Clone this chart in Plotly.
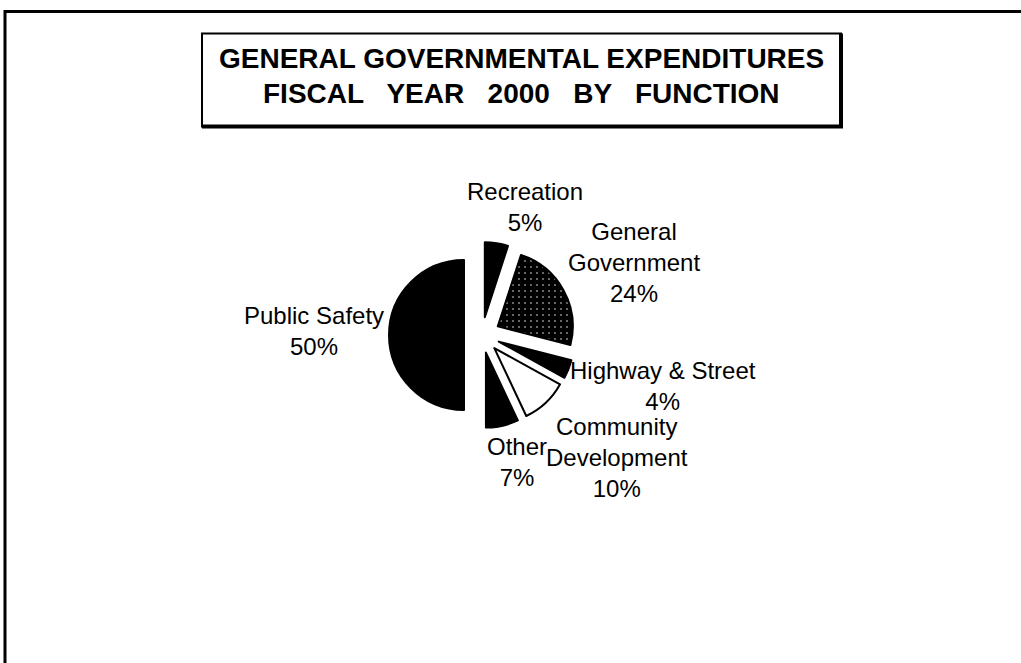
import plotly.graph_objects as go

# Expenditure shares by function (percent), clockwise from 12 o'clock
categories = ["Recreation", "General<br>Government", "Highway & Street",
              "Community<br>Development", "Other", "Public Safety"]
shares = [5, 24, 4, 10, 7, 50]

title_lines = ["GENERAL GOVERNMENTAL EXPENDITURES",
               "FISCAL   YEAR   2000   BY   FUNCTION"]

W, H = 1021, 663


def px(x):
    return x / W


def py(y):
    return 1 - y / H


# slice fills: solid black, stippled, open white
fills = ["black", "black", "black", "white", "black", "black"]
patterns = ["", ".", "", "", "", ""]

# label anchor points (pixel centres), one per category
label_pos = [(525, 207), (634, 263), (663, 386), (617, 457), (517, 462), (314, 331)]

cx, cy, r, pull = 482, 335, 75, 0.24
half = r * (1 + pull)

fig = go.Figure(go.Pie(
    labels=categories,
    values=shares,
    sort=False,
    direction="clockwise",
    rotation=0,
    pull=[pull] * len(shares),
    textinfo="none",
    hoverinfo="label+percent",
    showlegend=False,
    marker=dict(
        colors=fills,
        line=dict(color="black", width=2),
        pattern=dict(shape=patterns, fgcolor="white", bgcolor=fills,
                     size=6, solidity=0.05, fillmode="replace"),
    ),
    domain=dict(x=[px(cx - half), px(cx + half)],
                y=[py(cy + half), py(cy - half)]),
))

annotations = []
for cat, val, (lx, ly) in zip(categories, shares, label_pos):
    annotations.append(dict(
        x=px(lx), y=py(ly), xref="paper", yref="paper",
        xanchor="center", yanchor="middle", showarrow=False,
        text=f"{cat}<br>{val}%", align="center",
        font=dict(family="Liberation Sans, Arial", size=24, color="black"),
    ))

# boxed title
for i, line in enumerate(title_lines):
    annotations.append(dict(
        x=px(521.5), y=py(58.5 + 35 * i), xref="paper", yref="paper",
        xanchor="center", yanchor="middle", showarrow=False, text=line,
        font=dict(family="Liberation Sans, Arial", size=28, color="black",
                  weight="bold"),
    ))

shapes = [
    # page frame (top and left edges)
    dict(type="line", xref="paper", yref="paper", x0=px(5), x1=px(1021),
         y0=py(11.5), y1=py(11.5), line=dict(color="black", width=3)),
    dict(type="line", xref="paper", yref="paper", x0=px(5), x1=px(5),
         y0=py(10), y1=py(663), line=dict(color="black", width=3)),
    # title box with heavier right/bottom edges
    dict(type="rect", xref="paper", yref="paper", x0=px(202), x1=px(841),
         y0=py(126.5), y1=py(33.5), line=dict(color="black", width=2)),
    dict(type="line", xref="paper", yref="paper", x0=px(841), x1=px(841),
         y0=py(33.5), y1=py(128), line=dict(color="black", width=4)),
    dict(type="line", xref="paper", yref="paper", x0=px(202), x1=px(843),
         y0=py(126.5), y1=py(126.5), line=dict(color="black", width=4)),
]

fig.update_layout(
    width=W, height=H, autosize=False,
    margin=dict(l=0, r=0, t=0, b=0),
    paper_bgcolor="white", plot_bgcolor="white",
    annotations=annotations, shapes=shapes,
)

fig.write_html("out.html")
